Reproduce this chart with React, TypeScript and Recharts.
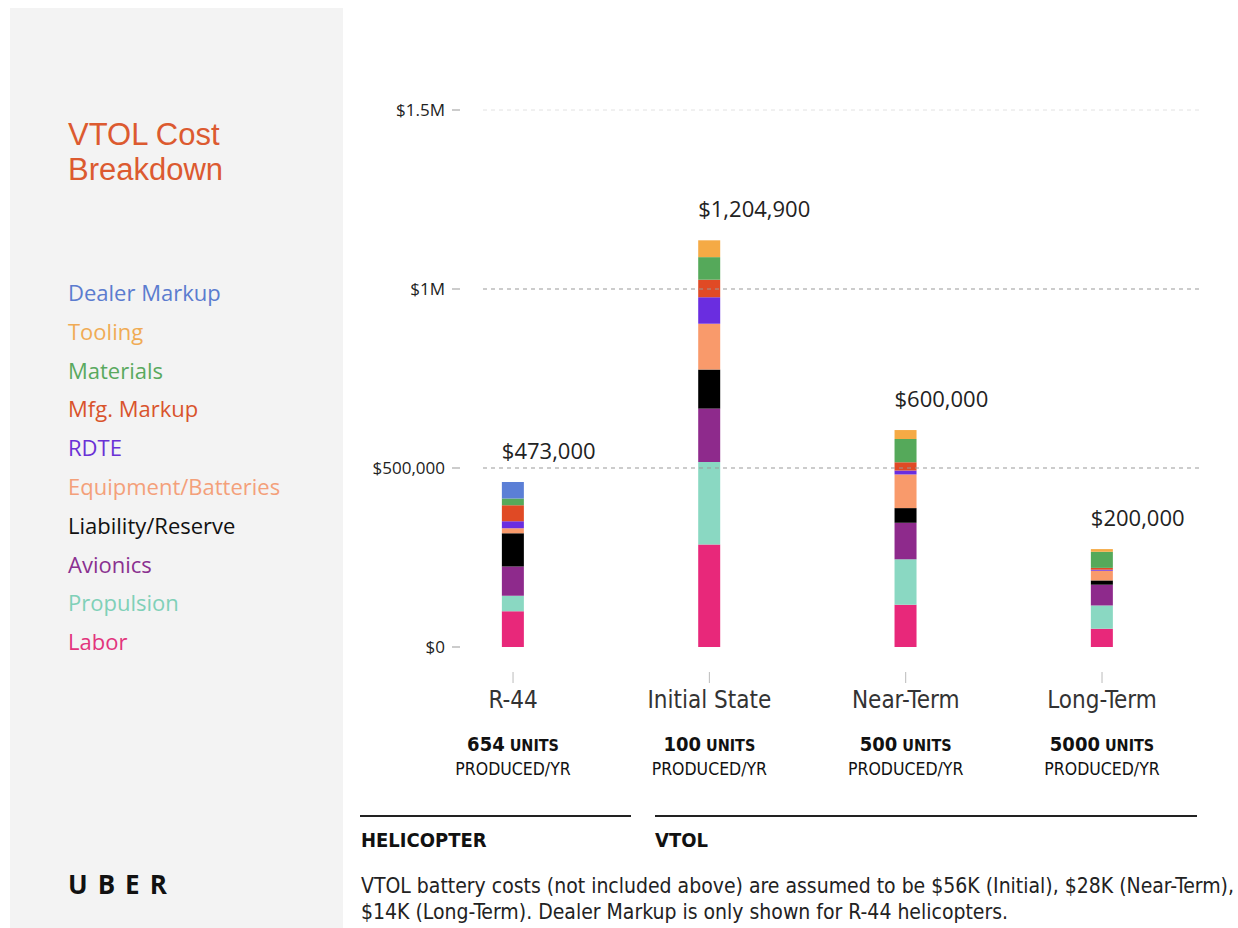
import React from 'react';
import { BarChart, Bar, XAxis, YAxis, ReferenceLine, LabelList } from 'recharts';

// --- data ---
const categories = ['R-44', 'Initial State', 'Near-Term', 'Long-Term'];
const unitCounts = ['654', '100', '500', '5000'];
const totalLabels = ['$473,000', '$1,204,900', '$600,000', '$200,000'];

const labor = [100000, 286000, 118000, 51000];
const propulsion = [43000, 231000, 127000, 65000];
const avionics = [82000, 149000, 102000, 58000];
const liability = [93000, 109000, 41000, 12000];
const equipment = [14000, 128000, 94000, 27000];
const rdte = [19000, 74000, 11000, 3000];
const mfgMarkup = [45000, 49000, 23000, 5000];
const materials = [19000, 63000, 65000, 45000];
const tooling = [0, 47000, 25000, 7500];
const dealerMarkup = [46000, 0, 0, 0];

const yTicks = [0, 500000, 1000000, 1500000];
const yTickLabels = ['$0', '$500,000', '$1M', '$1.5M'];

// bottom -> top stacking order
const series = [
  { key: 'labor', name: 'Labor', values: labor, color: '#e8287a' },
  { key: 'propulsion', name: 'Propulsion', values: propulsion, color: '#8ad8c2' },
  { key: 'avionics', name: 'Avionics', values: avionics, color: '#8e2a8c' },
  { key: 'liability', name: 'Liability/Reserve', values: liability, color: '#000000' },
  { key: 'equipment', name: 'Equipment/Batteries', values: equipment, color: '#f99a6b' },
  { key: 'rdte', name: 'RDTE', values: rdte, color: '#6a2de0' },
  { key: 'mfg', name: 'Mfg. Markup', values: mfgMarkup, color: '#e04a25' },
  { key: 'materials', name: 'Materials', values: materials, color: '#55a95a' },
  { key: 'tooling', name: 'Tooling', values: tooling, color: '#f5aa45' },
  { key: 'dealer', name: 'Dealer Markup', values: dealerMarkup, color: '#5b7fd6' },
];

const legendColors: Record<string, string> = {
  'Dealer Markup': '#5b7ccf',
  Tooling: '#f0ab55',
  Materials: '#59a95e',
  'Mfg. Markup': '#d9532c',
  RDTE: '#6a31d6',
  'Equipment/Batteries': '#f3a07a',
  'Liability/Reserve': '#111111',
  Avionics: '#8a3090',
  Propulsion: '#7fd0b8',
  Labor: '#e2347c',
};

const data = categories.map((c, i) => {
  const row: any = { x: i, name: c };
  series.forEach((s) => (row[s.key] = s.values[i]));
  return row;
});

// which series sits on top of each stack (gets the total label)
const topKey = categories.map((_, i) => {
  let k = series[0].key;
  series.forEach((s) => {
    if (s.values[i] > 0) k = s.key;
  });
  return k;
});

const FONT = '"Open Sans", "Noto Sans", sans-serif';
const TITLE_FONT = '"Liberation Sans", Arial, sans-serif';
const NARROW = '"Liberation Sans Narrow", "DejaVu Sans Condensed", "Open Sans", sans-serif';

const YTick = (props: any) => {
  const { y, payload } = props;
  const idx = yTicks.indexOf(payload.value);
  return (
    <g>
      <text x={445} y={y} dy={6} textAnchor="end" fontSize={17} fill="#222" fontFamily={FONT}>
        {yTickLabels[idx]}
      </text>
      <line x1={452} x2={460} y1={y} y2={y} stroke="#999" />
    </g>
  );
};

const XTick = (props: any) => {
  const { x, payload } = props;
  const i = payload.value;
  return (
    <g>
      <line x1={x} x2={x} y1={672} y2={683} stroke="#bbb" />
      <text x={x} y={708} textAnchor="middle" fontSize={24} fill="#333" fontFamily={NARROW}>
        {categories[i]}
      </text>
      <text x={x} y={751} textAnchor="middle" fill="#111" fontFamily={NARROW} fontWeight="bold">
        <tspan fontSize={20}>{unitCounts[i]}</tspan>
        <tspan fontSize={16}> UNITS</tspan>
      </text>
      <text x={x} y={775} textAnchor="middle" fontSize={17.5} fill="#111" fontFamily={NARROW}>
        PRODUCED/YR
      </text>
    </g>
  );
};

// label content gets the category name as value, so zero-height segments can't shift it
const makeTotalLabel = (key: string) => (props: any) => {
  const { x, y, value } = props;
  const i = categories.indexOf(value);
  if (i < 0 || topKey[i] !== key) return null;
  return (
    <text x={x} y={y - 23} fontSize={22} fill="#222" fontFamily={FONT}>
      {totalLabels[i]}
    </text>
  );
};

export default function App() {
  return (
    <div style={{ position: 'absolute', left: 0, top: 0, width: 1238, height: 928, background: '#fff' }}>
      {/* left panel */}
      <div
        style={{
          position: 'absolute',
          left: 10,
          top: 8,
          width: 333,
          height: 920,
          background: '#f3f3f3',
          fontFamily: FONT,
        }}
      >
        <div style={{ position: 'absolute', left: 58, top: 109, fontFamily: TITLE_FONT, fontSize: 31, lineHeight: '35px', color: '#dc5a30', whiteSpace: 'nowrap' }}>
          VTOL Cost
        </div>
        <div style={{ position: 'absolute', left: 58, top: 144, fontFamily: TITLE_FONT, fontSize: 31, lineHeight: '35px', color: '#dc5a30', whiteSpace: 'nowrap' }}>
          Breakdown
        </div>
        {[...series].reverse().map((s, i) => (
          <div
            key={s.key}
            style={{
              position: 'absolute',
              left: 58,
              top: 269 + i * 38.8,
              fontSize: 22,
              lineHeight: '30px',
              color: legendColors[s.name],
              whiteSpace: 'nowrap',
            }}
          >
            {s.name}
          </div>
        ))}
        <div
          style={{
            position: 'absolute',
            left: 58,
            top: 858,
            fontSize: 26,
            fontWeight: 'bold',
            letterSpacing: 10,
            color: '#111',
          }}
        >
          UBER
        </div>
      </div>

      {/* chart */}
      <div style={{ position: 'absolute', left: 0, top: 0 }}>
        <BarChart
          width={1238}
          height={928}
          data={data}
          margin={{ top: 110, right: 38, bottom: 131, left: 340 }}
        >
          <XAxis
            dataKey="x"
            type="number"
            domain={[-0.153, 3.499]}
            ticks={[0, 1, 2, 3]}
            allowDataOverflow
            axisLine={false}
            tickLine={false}
            height={150}
            tick={<XTick />}
            interval={0}
          />
          <YAxis
            type="number"
            domain={[0, 1500000]}
            ticks={yTicks}
            width={143}
            axisLine={false}
            tickLine={false}
            tick={<YTick />}
            interval={0}
          />
          <ReferenceLine y={1500000} stroke="#e2e2e2" strokeDasharray="4 4" />
          <ReferenceLine y={1000000} stroke="#999" strokeDasharray="4 4" />
          <ReferenceLine y={500000} stroke="#999" strokeDasharray="4 4" />
          {series.map((s) => (
            <Bar
              key={s.key}
              dataKey={s.key}
              stackId="a"
              fill={s.color}
              barSize={22}
              isAnimationActive={false}
            >
              {topKey.includes(s.key) && <LabelList dataKey="name" content={makeTotalLabel(s.key)} />}
            </Bar>
          ))}
        </BarChart>
      </div>

      {/* group rules & notes */}
      <div style={{ position: 'absolute', left: 360, top: 815, width: 271, height: 2, background: '#222' }} />
      <div style={{ position: 'absolute', left: 655, top: 815, width: 542, height: 2, background: '#222' }} />
      <div style={{ position: 'absolute', left: 361, top: 828, fontFamily: NARROW, fontWeight: 'bold', fontSize: 20, color: '#111' }}>
        HELICOPTER
      </div>
      <div style={{ position: 'absolute', left: 655, top: 828, fontFamily: NARROW, fontWeight: 'bold', fontSize: 20, color: '#111' }}>
        VTOL
      </div>
      <div
        style={{
          position: 'absolute',
          left: 361,
          top: 873,
          width: 877,
          fontFamily: NARROW,
          fontSize: 21,
          lineHeight: '26px',
          color: '#222',
          whiteSpace: 'nowrap',
        }}
      >
        VTOL battery costs (not included above) are assumed to be $56K (Initial), $28K (Near-Term),
        <br />
        $14K (Long-Term). Dealer Markup is only shown for R-44 helicopters.
      </div>
    </div>
  );
}
